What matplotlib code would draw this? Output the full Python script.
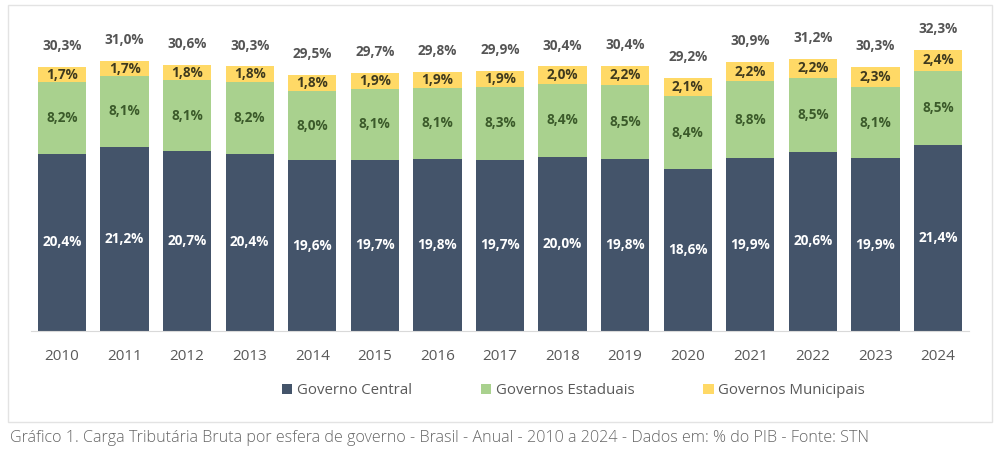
import matplotlib.pyplot as plt
import numpy as np
from matplotlib.patches import Rectangle

anos = ["2010", "2011", "2012", "2013", "2014", "2015", "2016", "2017",
        "2018", "2019", "2020", "2021", "2022", "2023", "2024"]
central = [20.4, 21.2, 20.7, 20.4, 19.6, 19.7, 19.8, 19.7, 20.0, 19.8, 18.6, 19.9, 20.6, 19.9, 21.4]
estaduais = [8.2, 8.1, 8.1, 8.2, 8.0, 8.1, 8.1, 8.3, 8.4, 8.5, 8.4, 8.8, 8.5, 8.1, 8.5]
municipais = [1.7, 1.7, 1.8, 1.8, 1.8, 1.9, 1.9, 1.9, 2.0, 2.2, 2.1, 2.2, 2.2, 2.3, 2.4]
totais = [30.3, 31.0, 30.6, 30.3, 29.5, 29.7, 29.8, 29.9, 30.4, 30.4, 29.2, 30.9, 31.2, 30.3, 32.3]

C_CENTRAL = "#44546A"
C_EST = "#A9D18E"
C_MUN = "#FFD966"

def fmt(v):
    return f"{v:.1f}%".replace(".", ",")

fig = plt.figure(figsize=(10, 4.53), dpi=100)
ax = fig.add_axes([0.0307, 0.269, 0.9386, 0.692])

x = np.arange(len(anos))
c = np.array(central)
e = np.array(estaduais)
m = np.array(municipais)
w = 0.77
ax.bar(x, c, w, color=C_CENTRAL, label="Governo Central")
ax.bar(x, e, w, bottom=c, color=C_EST, label="Governos Estaduais")
ax.bar(x, m, w, bottom=c + e, color=C_MUN, label="Governos Municipais")

lab = dict(ha="center", va="center", fontsize=9.8, fontweight="bold", family="Open Sans")
for i in range(len(anos)):
    ax.text(x[i], c[i] / 2, fmt(c[i]), color="white", **lab)
    ax.text(x[i], c[i] + e[i] / 2, fmt(e[i]), color="#3B5A2A", **lab)
    ax.text(x[i], c[i] + e[i] + m[i] / 2, fmt(m[i]), color="#3F3A1E", **lab)
    ax.text(x[i], c[i] + e[i] + m[i] + 2.4, fmt(totais[i]), color="#555555", **lab)

ax.set_xlim(-0.5, len(anos) - 0.5)
ax.set_ylim(0, 36)
ax.set_yticks([])
ax.set_xticks(x)
ax.set_xticklabels(anos, fontsize=11, color="#595959", family="Open Sans")
ax.tick_params(axis="x", length=0, pad=13)
for s in ["top", "right", "left"]:
    ax.spines[s].set_visible(False)
ax.spines["bottom"].set_color("#D9D9D9")

ax.legend(loc="center", bbox_to_anchor=(0.578, -0.19), ncol=3, frameon=False,
          handlelength=0.7, handleheight=0.7, handletextpad=0.3, columnspacing=4.6,
          prop={"family": "Open Sans", "size": 10.8}, labelcolor="#595959")

fig.patches.append(Rectangle((0.008, 0.068), 0.984, 0.921, transform=fig.transFigure,
                             fill=False, edgecolor="#E3E3E3", linewidth=1))

fig.text(0.01, 0.033, "Gráfico 1. Carga Tributária Bruta por esfera de governo - Brasil - Anual - "
         "2010 a 2024 - Dados em: % do PIB - Fonte: STN",
         fontsize=11.6, color="#666666", family="Open Sans", fontweight="light", va="center")

fig.savefig("out.png", dpi=100)
